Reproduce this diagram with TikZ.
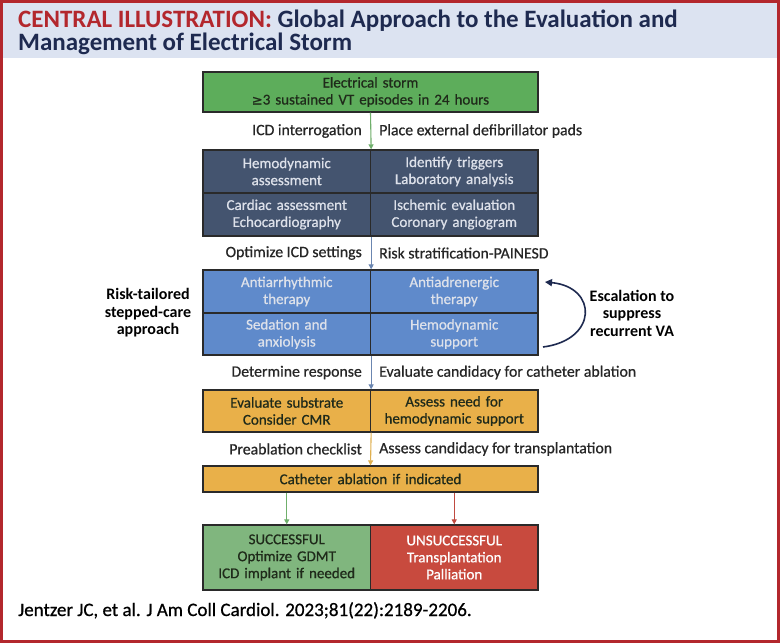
\documentclass[tikz,border=0pt]{standalone}
\usepackage{fontspec}
\setmainfont{Carlito}
\newfontfamily\medfont{Carlito}[FakeBold=0.7]
\newfontfamily\symfont{DejaVu Sans}[FakeBold=0.5]
\usetikzlibrary{arrows.meta,calc}
\definecolor{frame}{HTML}{B3272D}
\definecolor{header}{HTML}{DCE3F1}
\definecolor{navytxt}{HTML}{1E2A50}
\definecolor{stormgreen}{HTML}{5DAD5B}
\definecolor{navybox}{HTML}{44546F}
\definecolor{bluebox}{HTML}{5F8ACB}
\definecolor{goldbox}{HTML}{E9B049}
\definecolor{okgreen}{HTML}{80B67E}
\definecolor{badred}{HTML}{C84A3E}
\definecolor{edge}{HTML}{2A2A2A}
\definecolor{labeltxt}{HTML}{262626}
\definecolor{lighttxt}{HTML}{DDE1EA}
\definecolor{darktxt}{HTML}{1F2A1A}
\definecolor{arrgreen}{HTML}{6FAF6B}
\definecolor{arrblue}{HTML}{6B86B0}
\definecolor{arrgold}{HTML}{E0B050}
\definecolor{arrred}{HTML}{C04A40}
\tikzset{
  cell/.style={draw=edge, line width=1.3pt, minimum width=167.5pt, inner sep=0pt, align=center, text width=165pt,
    font=\medfont\fontsize{15}{17}\selectfont},
  widecell/.style={cell, minimum width=335pt, text width=330pt},
  lbl/.style={text=labeltxt, inner sep=0pt, font=\medfont\fontsize{15.8}{18}\selectfont},
  side/.style={inner sep=0pt, align=center, font=\fontsize{16}{17.5}\selectfont\bfseries, text=black},
  flow/.style={line width=1.1pt, -{Triangle[width=5pt,length=5pt]}},
}
\begin{document}
\begin{tikzpicture}[x=1pt,y=-1pt]
\useasboundingbox (0,0) rectangle (780,643);
\fill[white] (0,0) rectangle (780,643);
\fill[header] (0,0) rectangle (780,58);
\draw[frame, line width=3pt] (1.5,1.5) rectangle (778.5,641.5);

\node[anchor=base west, inner sep=0pt, text=navytxt, font=\fontsize{25}{27}\selectfont\bfseries] (title1) at (18,27)
  {{\color{frame}CENTRAL ILLUSTRATION:} Global Approach to the Evaluation and};
\node[anchor=base west, inner sep=0pt, text=navytxt, font=\fontsize{25}{27}\selectfont\bfseries] (title2) at (18,50)
  {Management of Electrical Storm};

% storm
\node[widecell, fill=stormgreen, minimum height=40pt, text=darktxt] (storm) at (370.5,92)
  {Electrical storm\\{\symfont\fontsize{13}{15}\selectfont ≥}3 sustained VT episodes in 24 hours};

% navy block
\node[cell, fill=navybox, minimum height=43pt, text=lighttxt] (hemo) at (286.75,171.5) {Hemodynamic\\assessment};
\node[cell, fill=navybox, minimum height=43pt, text=lighttxt] (trig) at (454.25,171.5) {Identify triggers\\Laboratory analysis};
\node[cell, fill=navybox, minimum height=43pt, text=lighttxt] (card) at (286.75,214.5) {Cardiac assessment\\Echocardiography};
\node[cell, fill=navybox, minimum height=43pt, text=lighttxt] (isch) at (454.25,214.5) {Ischemic evaluation\\Coronary angiogram};

% blue block
\node[cell, fill=bluebox, minimum height=43pt, text=lighttxt] (anti) at (286.75,291.5) {Antiarrhythmic\\therapy};
\node[cell, fill=bluebox, minimum height=43pt, text=lighttxt] (adre) at (454.25,291.5) {Antiadrenergic\\therapy};
\node[cell, fill=bluebox, minimum height=42pt, text=lighttxt] (seda) at (286.75,334) {Sedation and\\anxiolysis};
\node[cell, fill=bluebox, minimum height=42pt, text=lighttxt] (hsup) at (454.25,334) {Hemodynamic\\support};

% gold block
\node[cell, fill=goldbox, minimum height=42pt, text=darktxt] (subs) at (286.75,411) {Evaluate substrate\\Consider CMR};
\node[cell, fill=goldbox, minimum height=42pt, text=darktxt] (need) at (454.25,411) {Assess need for\\hemodynamic support};
\node[widecell, fill=goldbox, minimum height=26pt, text=darktxt] (abla) at (370.5,479) {Catheter ablation if indicated};

% outcome
\node[cell, fill=okgreen, minimum height=65pt, text=darktxt] (succ) at (286.75,557.5) {SUCCESSFUL\\Optimize GDMT\\ICD implant if needed};
\node[cell, fill=badred, minimum height=65pt, text=white] (fail) at (454.25,557.5) {UNSUCCESSFUL\\Transplantation\\Palliation};

% connectors
\draw[flow, arrgreen] (storm.south) -- (hemo.north east);
\draw[flow, arrblue] (card.south east) -- (anti.north east);
\draw[flow, arrblue] (seda.south east) -- (subs.north east);
\draw[flow, arrgold] (subs.south east) -- (abla.north);
\draw[flow, arrgreen] (abla.south -| succ.north) -- (succ.north);
\draw[flow, arrred] (abla.south -| fail.north) -- (fail.north);

% step labels
\node[lbl, anchor=east] (l1a) at (362,131) {ICD interrogation};
\node[lbl, anchor=west] (l1b) at (379,131) {Place external defibrillator pads};
\node[lbl, anchor=east] (l2a) at (362,253) {Optimize ICD settings};
\node[lbl, anchor=west] (l2b) at (379,253) {Risk stratification-PAINESD};
\node[lbl, anchor=east] (l3a) at (362,372.5) {Determine response};
\node[lbl, anchor=west] (l3b) at (379,372.5) {Evaluate candidacy for catheter ablation};
\node[lbl, anchor=east] (l4a) at (362,449) {Preablation checklist};
\node[lbl, anchor=west] (l4b) at (379,449) {Assess candidacy for transplantation};

% side labels
\node[side] (risk) at (148,313) {Risk-tailored\\stepped-care\\approach};
\node[side] (esc) at (632,313) {Escalation to\\suppress\\recurrent VA};

\coordinate (escA) at (543,347);
\coordinate (escB) at (545,282);
\draw[navytxt, line width=1.6pt, -{Triangle[width=7pt,length=7pt]}] (escA) .. controls (598,340) and (598,287) .. (escB);

% citation
\node[anchor=base west, inner sep=0pt, text=black, font=\medfont\fontsize{19}{22}\selectfont] (cite) at (18,616)
  {Jentzer JC, et al. J Am Coll Cardiol. 2023;81(22):2189-2206.};
\end{tikzpicture}
\end{document}
